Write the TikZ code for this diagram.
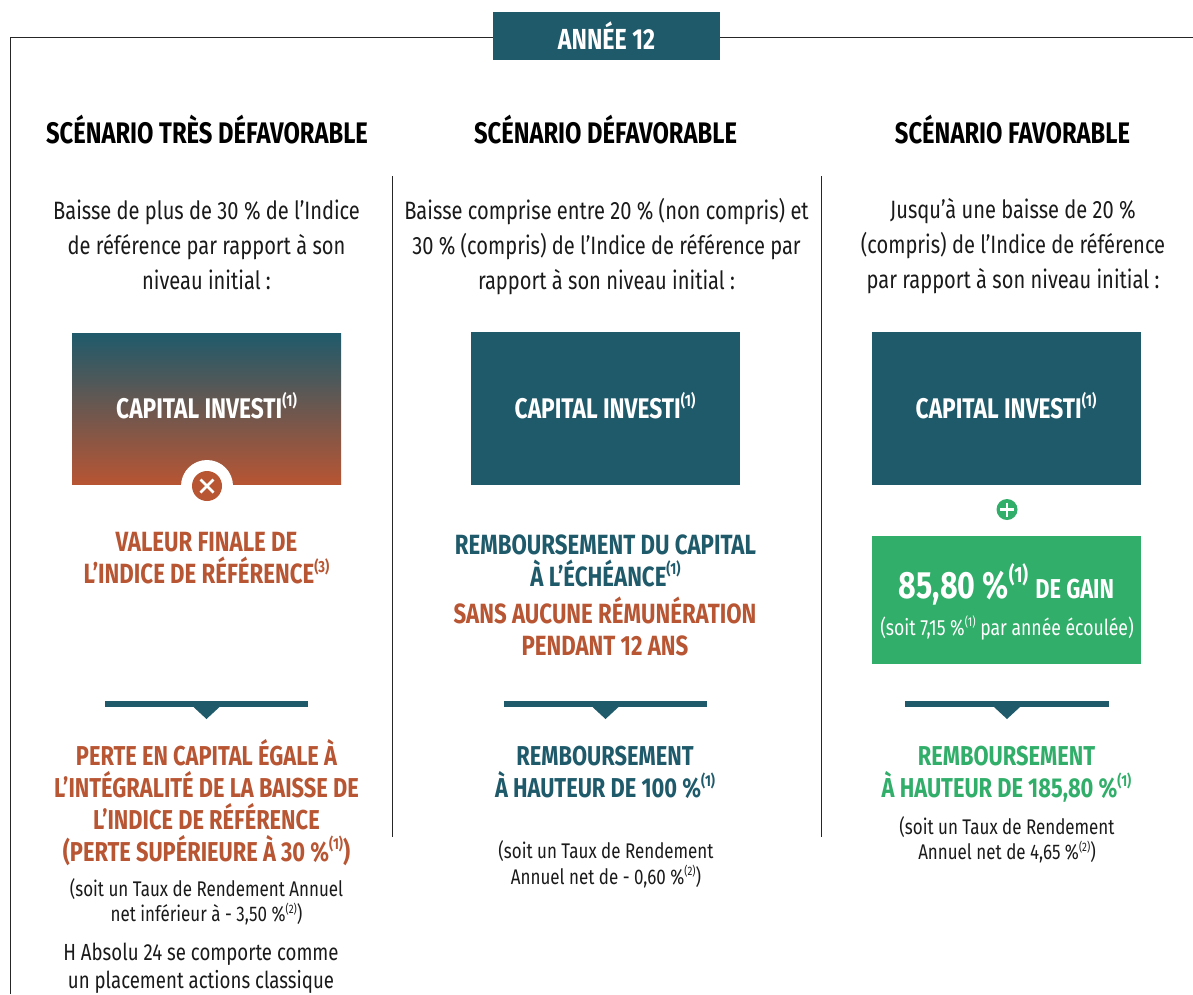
\documentclass[tikz,border=0pt]{standalone}
\usepackage{fontspec}
\setmainfont{Fira Sans}[FakeStretch=0.8,UprightFeatures={FakeStretch=0.8},BoldFeatures={FakeStretch=0.8}]
\definecolor{teal}{HTML}{1F5A6B}
\definecolor{rust}{HTML}{B85533}
\definecolor{grn}{HTML}{31AE69}
\definecolor{ink}{HTML}{1A1A1A}
\newcommand{\supb}[1]{\raisebox{0.42em}{\scalebox{0.58}{#1}}}
\tikzset{x=1pt,y=-1pt,
 body/.style={font=\fontsize{25.1}{35}\selectfont,text=ink,align=center,anchor=center,inner sep=0pt},
 heading/.style={font=\fontsize{29.7}{32}\selectfont\bfseries,text=black,align=center,inner sep=0pt},
 big/.style={font=\fontsize{27.8}{32}\selectfont\bfseries,align=center,inner sep=0pt},
 note/.style={font=\fontsize{21.2}{25.5}\selectfont,text=ink,align=center,inner sep=0pt},
 boxlabel/.style={font=\fontsize{28.4}{30}\selectfont\bfseries,text=white,align=center,inner sep=0pt},
 tealbox/.style={fill=teal,draw=none},
 frameline/.style={draw=black!85,line width=0.8pt},
 divider/.style={draw=black!85,line width=0.9pt}
}
\newcommand{\drop}[2]{% left x, right x
  \fill[teal] (#1,701) rectangle (#2,707);
  \fill[teal] ({(#1+#2)/2-13},707) -- ({(#1+#2)/2+13},707) -- ({(#1+#2)/2},719) -- cycle;
}
\begin{document}
\begin{tikzpicture}
\useasboundingbox (0,0) rectangle (1193,994);
\fill[white] (0,0) rectangle (1193,994);
% frame
\coordinate (fa) at (10,994); \coordinate (fb) at (10,37); \coordinate (fc) at (493,37);
\coordinate (fd) at (720,37); \coordinate (fe) at (1193,37);
\draw[frameline] (fa) -- (fb) -- (fc);
\draw[frameline] (fd) -- (fe);
\node[tealbox,minimum width=227pt,minimum height=48pt,inner sep=0pt,anchor=center] (titlebox) at (606.5,36) {};
\node[inner sep=0pt,font=\fontsize{29}{30}\selectfont\bfseries,text=white] (title) at (606.5,36) {ANNÉE 12};
% dividers
\coordinate (d1a) at (392,176); \coordinate (d1b) at (392,837);
\coordinate (d2a) at (821,176); \coordinate (d2b) at (821,837);
\draw[divider] (d1a) -- (d1b);
\draw[divider] (d2a) -- (d2b);
% headings
\node[heading] (h1) at (207,130) {SCÉNARIO TRÈS DÉFAVORABLE};
\node[heading] (h2) at (605.5,130) {SCÉNARIO DÉFAVORABLE};
\node[heading] (h3) at (1012.5,130) {SCÉNARIO FAVORABLE};
% bodies
\node[body] (b1) at (206.5,244.5) {Baisse de plus de 30 \% de l’Indice\\de référence par rapport à son\\niveau initial :};
\node[body] (b2) at (606.5,246.5) {Baisse comprise entre 20 \% (non compris) et\\30 \% (compris) de l’Indice de référence par\\rapport à son niveau initial :};
\node[body] (b3) at (1013,246.5) {Jusqu’à une baisse de 20 \%\\(compris) de l’Indice de référence\\par rapport à son niveau initial :};
% boxes
\shade[top color=teal,bottom color=rust,draw=none] (72,333) rectangle (341,484.6);
\node[boxlabel] (c1) at (206.5,406) {CAPITAL INVESTI\supb{(1)}};
\node[tealbox,minimum width=269pt,minimum height=153pt,inner sep=0pt] (box2) at (605.5,408.5) {};
\node[boxlabel] (c2) at (605,406) {CAPITAL INVESTI\supb{(1)}};
\node[tealbox,minimum width=269pt,minimum height=153pt,inner sep=0pt] (box3) at (1006.5,408.5) {};
\node[boxlabel] (c3) at (1006,406) {CAPITAL INVESTI\supb{(1)}};
% cross badge
\fill[white] (207,486) circle (26);
\node[circle,fill=rust,minimum size=30pt,inner sep=0pt] (xb) at (207,486) {};
\draw[white,line width=2.8pt] (200.5,479.5) -- (213.5,492.5) (200.5,492.5) -- (213.5,479.5);
% plus badge
\node[circle,fill=grn,minimum size=21pt,inner sep=0pt] (pb) at (1007,509.5) {};
\draw[white,line width=2.6pt] (1000,509.5) -- (1014,509.5) (1007,502.5) -- (1007,516.5);
% green box
\node[fill=grn,minimum width=269pt,minimum height=128pt,inner sep=0pt] (gbox) at (1006.5,600) {};
\node[inner sep=0pt,text=white,font=\bfseries] (g1) at (1006.5,584) {\fontsize{38}{40}\selectfont 85,80 \%\supb{(1)} \fontsize{27.3}{30}\selectfont DE GAIN};
\node[inner sep=0pt,text=white,font=\fontsize{22}{24}\selectfont] (g2) at (1007,628) {(soit 7,15 \%\supb{(1)} par année écoulée)};
% middle texts
\node[big,text=rust] (t1) at (206.5,558.5) {VALEUR FINALE DE\\L’INDICE DE RÉFÉRENCE\supb{(3)}};
\node[big,text=teal] (t2) at (605.5,560.5) {REMBOURSEMENT DU CAPITAL\\À L’ÉCHÉANCE\supb{(1)}};
\node[big,text=rust] (t3) at (605,626.5) {SANS AUCUNE RÉMUNÉRATION\\PENDANT 12 ANS};
% drops
\drop{105}{308}
\drop{504}{707}
\drop{905}{1109}
% results
\node[big,font=\fontsize{27.3}{32}\selectfont\bfseries,text=rust] (r1) at (206.5,802.5) {PERTE EN CAPITAL ÉGALE À\\L’INTÉGRALITÉ DE LA BAISSE DE\\L’INDICE DE RÉFÉRENCE\\(PERTE SUPÉRIEURE À 30 \%\supb{(1)})};
\node[big,font=\fontsize{27.3}{32}\selectfont\bfseries,text=teal] (r2) at (605,772.5) {REMBOURSEMENT\\À HAUTEUR DE 100 \%\supb{(1)}};
\node[big,font=\fontsize{27.3}{32}\selectfont\bfseries,text=grn] (r3) at (1006.5,774.5) {REMBOURSEMENT\\À HAUTEUR DE 185,80 \%\supb{(1)}};
\node[note] (n1) at (206.5,902) {(soit un Taux de Rendement Annuel\\net inférieur à - 3,50 \%\supb{(2)})};
\node[note] (n2) at (606,864.5) {(soit un Taux de Rendement\\Annuel net de - 0,60 \%\supb{(2)})};
\node[note] (n3) at (1007,840) {(soit un Taux de Rendement\\Annuel net de 4,65 \%\supb{(2)})};
\node[note,font=\fontsize{23.3}{28}\selectfont] (n4) at (201,968) {H Absolu 24 se comporte comme\\un placement actions classique};
\end{tikzpicture}
\end{document}
